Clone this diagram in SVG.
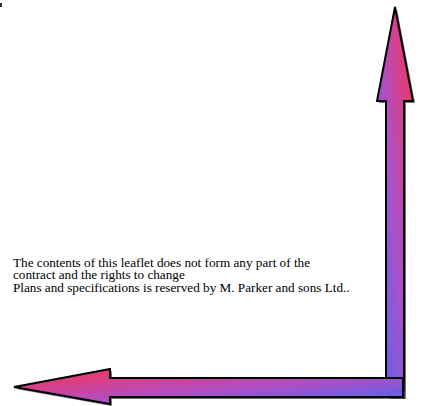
<svg xmlns="http://www.w3.org/2000/svg" width="423" height="406" viewBox="0 0 423 406">
  <style>
    .arrow { stroke: #000; stroke-width: 2; stroke-linejoin: miter; }
    .shadow { fill: #222; opacity: 0.6; }
    .note { font-family: "Liberation Serif", "Times New Roman", serif; font-size: 13.2px; fill: #000; }
  </style>
  <defs>
    <linearGradient id="gradV" x1="0" y1="1" x2="1" y2="0">
      <stop offset="0" stop-color="#4a66f2"/>
      <stop offset="0.45" stop-color="#a852cc"/>
      <stop offset="1" stop-color="#ff2f4e"/>
    </linearGradient>
    <linearGradient id="gradH" x1="1" y1="1" x2="0" y2="0">
      <stop offset="0" stop-color="#4a66f2"/>
      <stop offset="0.45" stop-color="#b24ec4"/>
      <stop offset="1" stop-color="#ff2f4e"/>
    </linearGradient>
  </defs>
  <rect x="0" y="3" width="2" height="4" fill="#333"/>
  <g id="arrow-up">
    <polygon class="shadow" points="397,9 415,103 406,103 406,399 390,399 390,103 379,103"/>
    <polygon class="arrow" fill="url(#gradV)" points="395,7 413,101 404,101 404,390 386,390 386,101 377,101"/>
  </g>
  <g id="arrow-left">
    <polygon class="shadow" points="16,389 112,371 112,380 405,380 405,399 112,399 112,406"/>
    <polygon class="arrow" fill="url(#gradH)" points="14,387 110,369 110,378 403,378 403,397 110,397 110,404"/>
  </g>
  <g id="disclaimer" class="note">
    <text x="13" y="267">The contents of this leaflet does not form any part of the</text>
    <text x="13" y="279">contract and the rights to change</text>
    <text x="13" y="292">Plans and specifications is reserved by M. Parker and sons Ltd..</text>
  </g>
</svg>
